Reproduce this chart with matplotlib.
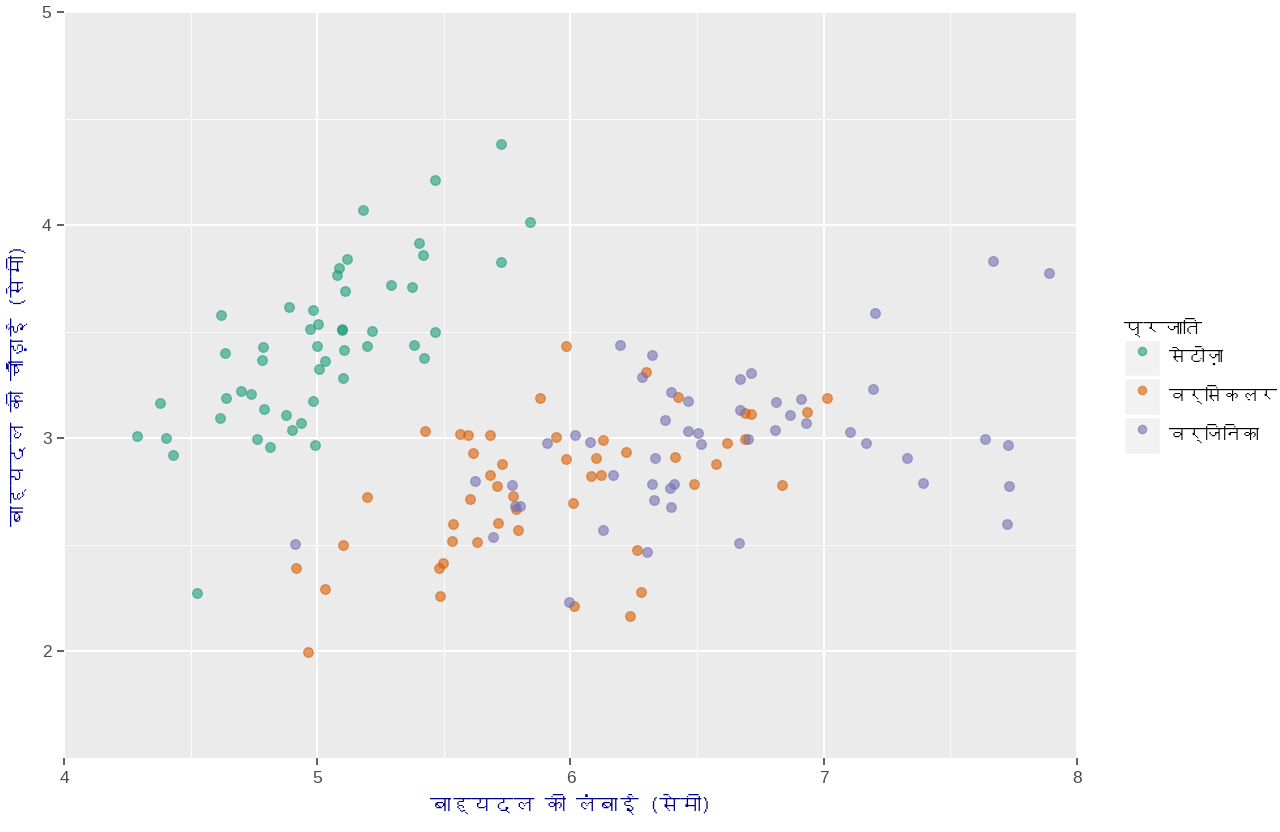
import matplotlib
matplotlib.use("Agg")
import matplotlib.pyplot as plt
import matplotlib.font_manager as fm
from matplotlib.ft2font import FT2Font
from matplotlib.lines import Line2D
from matplotlib.patches import Patch
from matplotlib.legend_handler import HandlerTuple

# look for any installed font that has Devanagari glyphs
deva = None
for f in fm.fontManager.ttflist:
    try:
        if 0x0915 in FT2Font(f.fname).get_charmap():
            deva = f.name
            break
    except Exception:
        pass
fams = [deva, "DejaVu Sans"] if deva else ["DejaVu Sans"]
plt.rcParams["font.family"] = fams

species = ["सेटोज़ा", "वर्सिकलर", "वर्जिनिका"]
colors = ["#1B9E77", "#D95F02", "#7570B3"]

setosa_x = [4.289, 4.378, 4.403, 4.429, 4.524, 4.619, 4.615, 4.637, 4.640, 4.698,
            4.740, 4.763, 4.781, 4.786, 4.791, 4.815, 4.877, 4.887, 4.900, 4.936,
            4.971, 4.983, 4.983, 4.990, 5.004, 4.999, 5.008, 5.031, 5.077, 5.087,
            5.097, 5.099, 5.108, 5.106, 5.100, 5.117, 5.179, 5.198, 5.215, 5.291,
            5.373, 5.403, 5.418, 5.464, 5.726, 5.841, 5.724, 5.464, 5.381, 5.420]
setosa_y = [3.011, 3.165, 3.003, 2.922, 2.273, 3.578, 3.095, 3.401, 3.189, 3.220,
            3.209, 2.995, 3.369, 3.426, 3.139, 2.961, 3.107, 3.616, 3.039, 3.073,
            3.514, 3.173, 3.603, 2.970, 3.537, 3.431, 3.323, 3.364, 3.766, 3.797,
            3.509, 3.511, 3.693, 3.415, 3.284, 3.841, 4.073, 3.433, 3.502, 3.719,
            3.712, 3.917, 3.862, 4.214, 4.381, 4.017, 3.828, 3.498, 3.439, 3.375]

versicolor_x = [5.982, 5.878, 5.427, 5.564, 5.596, 5.683, 5.943, 5.614, 5.731, 5.682,
                5.981, 6.127, 6.101, 6.081, 6.122, 5.709, 5.604, 5.774, 5.786, 5.535,
                5.714, 5.792, 5.532, 5.630, 5.498, 5.482, 5.485, 6.011, 6.015, 6.263,
                6.280, 6.235, 5.198, 5.100, 4.915, 5.031, 4.962, 6.299, 6.424, 6.688,
                6.713, 6.935, 7.013, 6.619, 6.688, 6.219, 6.411, 6.573, 6.487, 6.834]
versicolor_y = [3.434, 3.189, 3.032, 3.020, 3.017, 3.015, 3.004, 2.929, 2.880, 2.826,
                2.904, 2.990, 2.909, 2.821, 2.829, 2.778, 2.717, 2.730, 2.669, 2.596,
                2.604, 2.570, 2.520, 2.512, 2.417, 2.390, 2.261, 2.698, 2.212, 2.476,
                2.281, 2.167, 2.725, 2.500, 2.393, 2.295, 1.998, 3.312, 3.194, 3.121,
                3.112, 3.123, 3.189, 2.979, 2.998, 2.937, 2.914, 2.878, 2.784, 2.779]

virginica_x = [6.197, 6.322, 6.281, 6.397, 6.465, 6.669, 6.714, 6.374, 6.463, 6.502,
               6.515, 6.668, 6.810, 6.910, 6.867, 6.931, 6.808, 6.700, 7.104, 7.168,
               7.193, 7.202, 6.332, 6.169, 5.908, 6.019, 6.077, 5.622, 5.770, 5.780,
               5.799, 5.693, 6.322, 6.328, 6.127, 6.302, 5.994, 4.911, 6.410, 6.392,
               6.396, 6.665, 7.668, 7.330, 7.391, 7.637, 7.726, 7.730, 7.725, 7.889]
virginica_y = [3.440, 3.392, 3.289, 3.215, 3.176, 3.278, 3.304, 3.087, 3.036, 3.023,
               2.975, 3.131, 3.172, 3.184, 3.107, 3.072, 3.037, 2.997, 3.031, 2.978,
               3.233, 3.590, 2.909, 2.829, 2.979, 3.016, 2.981, 2.801, 2.781, 2.683,
               2.683, 2.539, 2.787, 2.711, 2.568, 2.467, 2.231, 2.506, 2.787, 2.767,
               2.678, 2.507, 3.833, 2.909, 2.790, 2.997, 2.967, 2.776, 2.598, 3.776]

xs = [setosa_x, versicolor_x, virginica_x]
ys = [setosa_y, versicolor_y, virginica_y]

fig = plt.figure(figsize=(12.8, 8.32), dpi=100)
ax = fig.add_axes([0.05, 0.0889, 0.7914, 0.8967])
ax.set_facecolor("#EBEBEB")

for x, y, c in zip(xs, ys, colors):
    ax.scatter(x, y, s=48, color=c, alpha=0.6, edgecolors=c, linewidths=0.9, zorder=3)

ax.set_xlim(4, 8)
ax.set_ylim(1.5, 5)
ax.set_xticks([4, 5, 6, 7, 8])
ax.set_yticks([2, 3, 4, 5])
ax.set_xticks([4.5, 5.5, 6.5, 7.5], minor=True)
ax.set_yticks([2.5, 3.5, 4.5], minor=True)
ax.grid(which="major", color="white", linewidth=1.3, zorder=0)
ax.grid(which="minor", color="white", linewidth=0.6, zorder=0)
ax.set_axisbelow(True)
for s in ax.spines.values():
    s.set_visible(False)
ax.tick_params(which="major", length=5, width=1.1, color="#333333",
               labelsize=12.5, labelcolor="#4D4D4D", pad=4)
ax.tick_params(which="minor", length=0)
for lab in ax.get_xticklabels() + ax.get_yticklabels():
    lab.set_family(["Liberation Sans", "DejaVu Sans"])

ax.set_xlabel("बाह्यदल की लंबाई (सेमी)", fontsize=15, color="#00008B", labelpad=6)
ax.set_ylabel("बाह्यदल की चौड़ाई (सेमी)", fontsize=15, color="#00008B", labelpad=10)

handles = [(Patch(facecolor="#F2F2F2", edgecolor="white"),
            Line2D([], [], marker="o", linestyle="none", markersize=6,
                   color=c, alpha=0.6, markeredgewidth=0.9))
           for c in colors]
leg = fig.legend(handles, species, title="प्रजाति", loc="center left",
                 bbox_to_anchor=(0.871, 0.536), frameon=False, fontsize=13,
                 title_fontsize=14, handlelength=2.0, handleheight=2.75,
                 handletextpad=0.5, labelspacing=0.12, borderpad=0,
                 alignment="left",
                 handler_map={tuple: HandlerTuple(ndivide=1, pad=0)})

fig.savefig("out.png", dpi=100)
